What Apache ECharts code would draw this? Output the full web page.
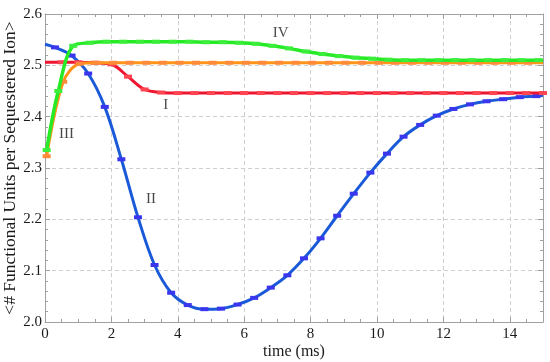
<!DOCTYPE html>
<html>
<head>
<meta charset="utf-8">
<script src="https://cdn.jsdelivr.net/npm/echarts@6/dist/echarts.min.js"></script>
<style>html,body{margin:0;padding:0;background:#fff;}#c{width:550px;height:362px;}</style>
</head>
<body>
<div id="c"></div>
<script>
// ---- data ----
const xTicks = [0, 2, 4, 6, 8, 10, 12, 14];
const yTicks = [2.0, 2.1, 2.2, 2.3, 2.4, 2.5, 2.6];

// Curve II (blue)
const blueX = [0, 0.3, 0.8, 1.3, 1.8, 2.3, 2.8, 3.3, 3.8, 4.3, 4.8, 5.3, 5.8, 6.3, 6.8, 7.3, 7.8, 8.3, 8.8, 9.3, 9.8, 10.3, 10.8, 11.3, 11.8, 12.3, 12.8, 13.3, 13.8, 14.3, 14.8, 15];
const blueY = [2.541, 2.535, 2.519, 2.484, 2.419, 2.317, 2.204, 2.111, 2.057, 2.033, 2.025, 2.026, 2.034, 2.047, 2.067, 2.091, 2.124, 2.163, 2.207, 2.250, 2.291, 2.328, 2.361, 2.384, 2.402, 2.415, 2.424, 2.430, 2.434, 2.438, 2.440, 2.441];
const blueBare = [0, 31];

// Curve I (red)
const redX = [0, 0.5, 1.0, 1.5, 2.0, 2.5, 3.0, 3.5, 4.0, 4.5, 5.0, 5.5, 6.0, 6.5, 7.0, 7.5, 8.0, 8.5, 9.0, 9.5, 10.0, 10.5, 11.0, 11.5, 12.0, 12.5, 13.0, 13.5, 14.0, 14.5, 15.0];
const redY = [2.506, 2.506, 2.506, 2.505, 2.502, 2.478, 2.453, 2.447, 2.446, 2.446, 2.446, 2.446, 2.446, 2.446, 2.446, 2.446, 2.446, 2.446, 2.446, 2.446, 2.446, 2.446, 2.446, 2.446, 2.446, 2.446, 2.446, 2.446, 2.446, 2.446, 2.446];
const redBare = [0];

// Curve III (orange)
const orangeX = [0.05, 0.55, 1.05, 1.55, 2.05, 2.55, 3.05, 3.55, 4.05, 4.55, 5.05, 5.55, 6.05, 6.55, 7.05, 7.55, 8.05, 8.55, 9.05, 9.55, 10.05, 10.55, 11.05, 11.55, 12.05, 12.55, 13.05, 13.55, 14.05, 14.55, 15];
const orangeY = [2.323, 2.468, 2.503, 2.505, 2.505, 2.505, 2.505, 2.505, 2.505, 2.505, 2.505, 2.505, 2.505, 2.505, 2.505, 2.505, 2.505, 2.505, 2.505, 2.505, 2.505, 2.505, 2.505, 2.505, 2.505, 2.505, 2.505, 2.505, 2.505, 2.505, 2.505];
const orangeBare = [30];

// Curve IV (green)
const greenX = [0.05, 0.4, 0.85, 1.35, 1.85, 2.35, 2.85, 3.35, 3.85, 4.35, 4.85, 5.35, 5.85, 6.35, 6.85, 7.35, 7.85, 8.35, 8.85, 9.35, 9.85, 10.35, 10.85, 11.35, 11.85, 12.35, 12.85, 13.35, 13.85, 14.35, 14.85, 15];
const greenY = [2.335, 2.450, 2.538, 2.544, 2.546, 2.546, 2.546, 2.546, 2.546, 2.546, 2.545, 2.545, 2.544, 2.542, 2.538, 2.533, 2.527, 2.522, 2.518, 2.515, 2.513, 2.511, 2.510, 2.510, 2.510, 2.510, 2.510, 2.510, 2.510, 2.510, 2.510, 2.510];
const greenBare = [31];

// Curve labels
const labelNames = ['IV', 'I', 'III', 'II'];
const labelX = [7.1, 3.64, 0.65, 3.19];
const labelY = [2.562, 2.423, 2.367, 2.240];

// ---- chart ----
const FONT = '"Liberation Serif", "DejaVu Serif", serif';
function build(xs, ys, bare) {
  return xs.map((x, i) => bare.includes(i) ? { value: [x, ys[i]], symbol: 'none' } : [x, ys[i]]);
}
function curve(name, xs, ys, bare, lineColor, markColor, width, z) {
  return {
    name, type: 'line', data: build(xs, ys, bare), smooth: 0.35,
    symbol: 'rect', symbolSize: [8, 4], showSymbol: true, z: z,
    lineStyle: { color: lineColor, width: width },
    itemStyle: { color: markColor, borderWidth: 0 },
    emphasis: { disabled: true }
  };
}
const frameColor = '#a0a0a0';
function axisCommon(pos, isX, main) {
  const a = {
    type: 'value', position: pos,
    min: isX ? 0 : 2.0, max: isX ? 15 : 2.6, interval: isX ? 2 : 0.1,
    axisLine: { show: true, onZero: false, lineStyle: { color: frameColor, width: 1 } },
    axisTick: { show: true, inside: true, length: 5, lineStyle: { color: frameColor } },
    minorTick: { show: true, splitNumber: isX ? 4 : 5, length: 3, lineStyle: { color: frameColor } },
    splitLine: { show: main, lineStyle: { color: '#cfcfcf', type: [4, 3], width: 1 } },
    axisLabel: { show: main, color: '#1a1a1a', fontFamily: FONT, fontSize: 15, margin: isX ? 5 : 3,
      formatter: isX ? (v => (xTicks.includes(v) ? String(v) : '')) : (v => v.toFixed(1)) }
  };
  return a;
}
const chart = echarts.init(document.getElementById('c'), null, { renderer: 'canvas' });
const xMain = axisCommon('bottom', true, true);
xMain.name = 'time (ms)'; xMain.nameLocation = 'middle'; xMain.nameGap = 22; xMain.nameMoveOverlap = false;
xMain.nameTextStyle = { fontFamily: FONT, fontSize: 16, color: '#1a1a1a' };
const yMain = axisCommon('left', false, true);
yMain.name = '<# Functional Units per Sequestered Ion>'; yMain.nameLocation = 'middle'; yMain.nameGap = 26; yMain.nameMoveOverlap = false;
yMain.nameTextStyle = { fontFamily: FONT, fontSize: 17.5, color: '#1a1a1a' };

chart.setOption({
  animation: false,
  backgroundColor: '#fff',
  grid: { left: 45, right: 7, top: 14, bottom: 40, containLabel: false, outerBoundsMode: 'none' },
  xAxis: [xMain, axisCommon('top', true, false)],
  yAxis: [yMain, axisCommon('right', false, false)],
  series: [
    curve('II', blueX, blueY, blueBare, '#1a5ad8', '#3a36ee', 3, 3),
    curve('I', redX, redY, redBare, '#ee1530', '#ff4452', 3, 4),
    curve('III', orangeX, orangeY, orangeBare, '#ff9418', '#ff8a3a', 3, 5),
    curve('IV', greenX, greenY, greenBare, '#26ea26', '#3cee3c', 3.5, 6),
    {
      type: 'scatter', symbolSize: 0, z: 10, silent: true,
      data: labelNames.map((n, i) => ({ name: n, value: [labelX[i], labelY[i]] })),
      label: { show: true, position: 'inside', formatter: p => p.name, fontFamily: FONT, fontSize: 15, color: '#1a1a1a' }
    }
  ]
});
</script>
</body>
</html>
